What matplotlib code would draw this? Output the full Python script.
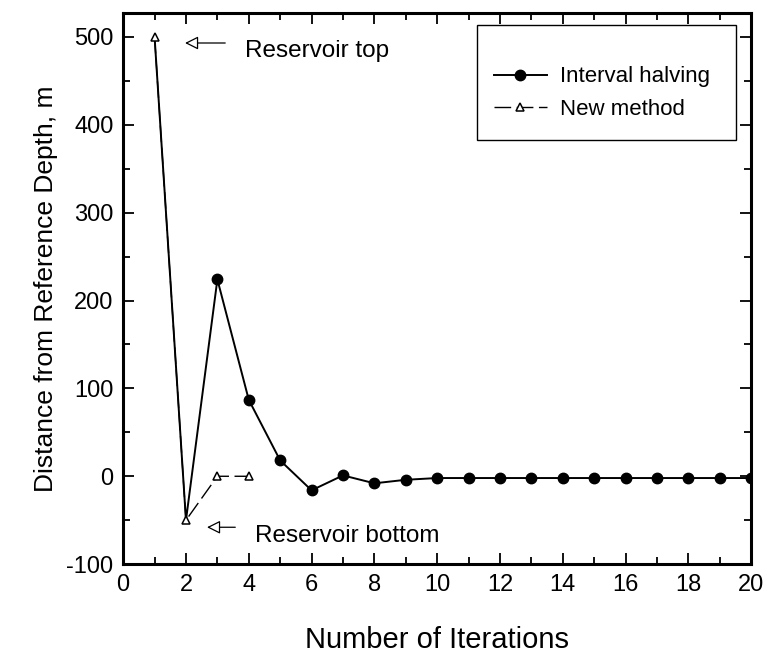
import numpy as np
import matplotlib.pyplot as plt
from matplotlib.patches import Rectangle

plt.rcParams['font.family'] = ['Liberation Sans', 'DejaVu Sans']
plt.rcParams['axes.unicode_minus'] = False

# iteration counts and distances from the reference depth (m)
halving_iter = list(range(1, 21))
halving_dist = [500, -50, 224, 87, 18, -16, 1, -8, -4, -2,
                -2, -2, -2, -2, -2, -2, -2, -2, -2, -2]

new_iter = [1, 2, 3, 4]
new_dist = [500, -50, 0, 0]

fig = plt.figure(figsize=(7.65, 6.56), dpi=100)
ax = fig.add_axes([0.161, 0.140, 0.821, 0.840])

ax.plot(halving_iter, halving_dist, color='black', lw=1.4, marker='o',
        ms=7.5, markevery=list(range(2, 20)), label='Interval halving', zorder=3)
ax.plot(new_iter, new_dist, color='black', lw=1.0, ls=(0, (12, 4)),
        marker='^', ms=6, mfc='white', mec='black', mew=1.1,
        label='New method', zorder=4)

# open-headed arrows marking the reservoir limits
arrow = dict(arrowstyle='-|>', fc='white', ec='black', lw=0.9,
             mutation_scale=20, shrinkA=0, shrinkB=0)
ax.annotate('', xy=(1.97, 493), xytext=(3.25, 493), arrowprops=arrow)
ax.text(3.89, 477, 'Reservoir top', fontsize=17.5, va='baseline')
ax.annotate('', xy=(2.67, -58), xytext=(3.57, -58), arrowprops=arrow)
ax.text(4.2, -75, 'Reservoir bottom', fontsize=17.5, va='baseline')

ax.set_xlim(0, 20)
ax.set_ylim(-100, 527)
ax.set_xticks(np.arange(0, 21, 2))
ax.set_xticks(np.arange(1, 20, 2), minor=True)
ax.set_yticks(np.arange(-100, 501, 100))
ax.set_yticks(np.arange(-50, 527, 100), minor=True)
ax.tick_params(which='both', direction='in', top=True, right=True,
               labelsize=17, width=1.3)
ax.tick_params(which='major', length=8, pad=7)
ax.tick_params(which='minor', length=5)
for s in ax.spines.values():
    s.set_linewidth(2.2)

ax.set_xlabel('Number of Iterations', fontsize=21, labelpad=22)
ax.set_ylabel('Distance from Reference Depth, m', fontsize=19, labelpad=6)

# legend: frameless entries inside a hand-placed box
ax.add_patch(Rectangle((0.564, 0.770), 0.411, 0.208, transform=ax.transAxes,
                       fill=False, ec='black', lw=1.0, zorder=5))
ax.legend(loc='center left', bbox_to_anchor=(0.590, 0.855),
          fontsize=16, frameon=False, borderpad=0, borderaxespad=0,
          handlelength=2.4, labelspacing=0.5, handletextpad=0.6)

fig.savefig('out.png', dpi=100)
